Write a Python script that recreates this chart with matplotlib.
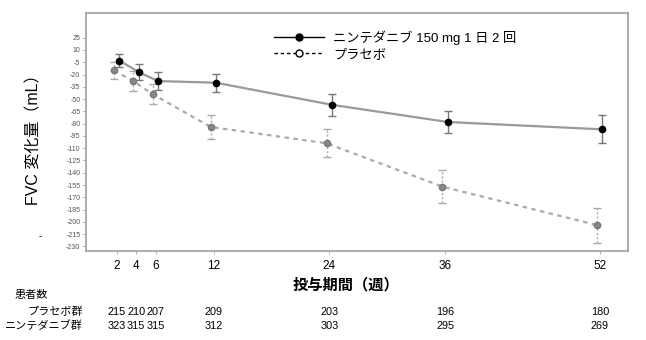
import matplotlib
matplotlib.use("Agg")
import matplotlib.pyplot as plt
from matplotlib.lines import Line2D
import numpy as np

plt.rcParams['font.family'] = ['Liberation Sans', 'Noto Sans CJK JP']

# FVC change from baseline (mL), mean +/- SE
weeks = [2, 4, 6, 12, 24, 36, 52]
nintedanib = [-3, -17, -28, -30, -57, -78, -87]
nintedanib_err = [8, 10, 11, 11, 13.5, 13.5, 17]
placebo = [-15, -28, -44, -84, -104, -157, -204]
placebo_err = [10.5, 12, 12, 15, 17, 20, 21.5]

n_placebo = [215, 210, 207, 209, 203, 196, 180]
n_nintedanib = [323, 315, 315, 312, 303, 295, 269]

yticks = list(range(25, -231, -15))

label_nin = "ニンテダニブ 150 mg 1 日 2 回"
label_pla = "プラセボ"

fig = plt.figure(figsize=(6.46, 3.4), dpi=100)
ax = fig.add_axes([0.1331, 0.2632, 0.8390, 0.6994])

w = np.array(weeks, dtype=float)
ax.errorbar(w + 0.25, nintedanib, yerr=nintedanib_err, color='#9a9a9a', lw=1.6,
            marker='o', ms=4.5, mfc='black', mec='black', ecolor='#777777',
            elinewidth=1.0, capsize=3, capthick=1.0, label=label_nin, zorder=3)
eb = ax.errorbar(w - 0.3, placebo, yerr=placebo_err, color='#aaaaaa', lw=1.6,
                 ls=(0, (2, 2)), marker='o', ms=4.5, mfc='#888888', mec='#777777',
                 ecolor='#aaaaaa', elinewidth=1.0, capsize=3, capthick=1.0,
                 label=label_pla, zorder=2)
eb[2][0].set_linestyle((0, (1.5, 1.5)))

ax.set_xlim(-1.2, 54.9)
ax.set_ylim(-235, 55.5)
ax.set_xticks(weeks)
ax.set_xticklabels([str(x) for x in weeks], fontsize=8.5)
ax.set_yticks(yticks)
ax.set_yticklabels([str(y) for y in yticks], fontsize=5, color='#555555')
ax.tick_params(axis='y', length=2.5, width=0.6, color='#888888', pad=1.5)
ax.tick_params(axis='x', length=2, width=0.6, color='#aaaaaa', pad=5)
for s in ax.spines.values():
    s.set_color('#a0a0a0')
    s.set_linewidth(1.2)

fig.text(0.052, 0.6, "FVC 変化量（mL）", fontsize=11.5, rotation=90,
         ha='center', va='center')
fig.text(0.536, 0.16, "投与期間（週）", fontsize=11, ha='center', va='center',
         fontweight='bold')
fig.text(0.062, 0.305, "-", fontsize=7, ha='center', va='center')

# legend drawn by hand, marker centred on a short line
h_nin = Line2D([], [], color='black', lw=1.0, marker='o', ms=5, mfc='black')
h_pla = Line2D([], [], color='black', lw=1.0, ls=(0, (2.5, 2)), marker='o', ms=5,
               mfc='white')
ax.legend([h_nin, h_pla], [label_nin, label_pla], loc='upper left',
          bbox_to_anchor=(0.325, 0.975), frameon=False, fontsize=9.5,
          handlelength=3.8, handletextpad=0.7, labelspacing=0.25)

# patient numbers under the axis
fig.text(0.023, 0.132, "患者数", fontsize=8, ha='left', va='center')
fig.text(0.128, 0.083, "プラセボ群", fontsize=8, ha='right', va='center')
fig.text(0.128, 0.042, "ニンテダニブ群", fontsize=8, ha='right', va='center')
for x, a, b in zip(weeks, n_placebo, n_nintedanib):
    xf = fig.transFigure.inverted().transform(ax.transData.transform((x, 0)))[0]
    fig.text(xf, 0.083, str(a), fontsize=7.8, ha='center', va='center')
    fig.text(xf, 0.042, str(b), fontsize=7.8, ha='center', va='center')

fig.savefig("out.png", dpi=100)
